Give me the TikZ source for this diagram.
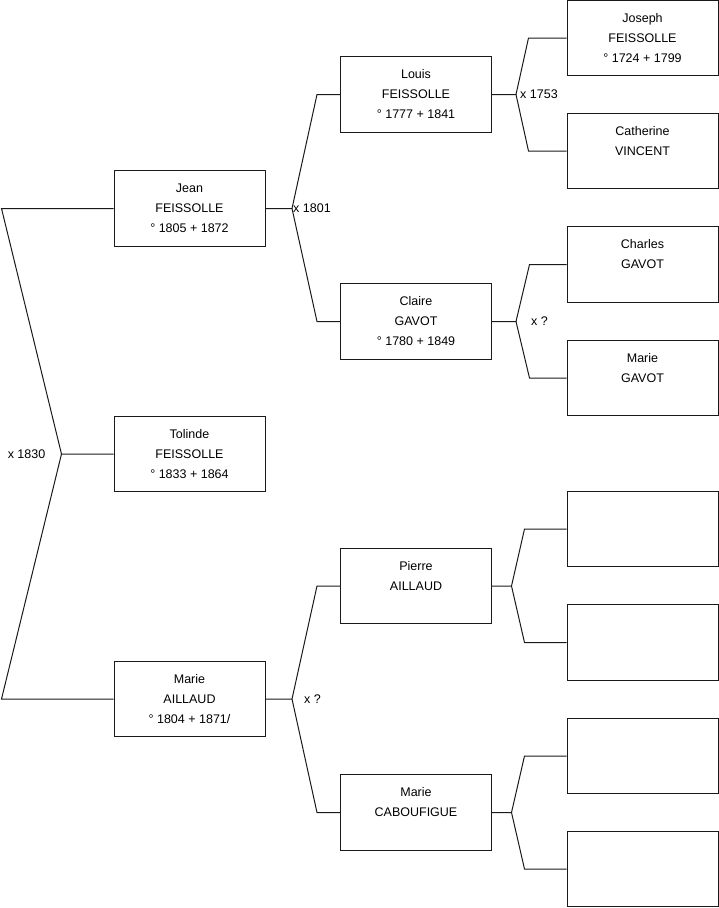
\documentclass[tikz,border=0pt]{standalone}
\usepackage{fontspec}
\setmainfont{Liberation Sans}
\usepackage{tikz}
\usetikzlibrary{positioning}
\definecolor{ink}{HTML}{1A1A1A}
\newcommand{\pers}[3]{\strut#1\\\strut#2\\\strut#3}

\begin{document}
\begin{tikzpicture}[x=1pt,y=-1pt,
  person/.style={draw=ink,line width=1pt,fill=white,align=center,
                 minimum width=151pt,minimum height=75.5pt,inner sep=0pt,
                 font=\fontsize{12.5}{20}\selectfont},
  link/.style={draw=ink,line width=1pt},
  union/.style={font=\fontsize{12.5}{15}\selectfont,inner sep=1pt},
]
  \useasboundingbox (0,0) rectangle (719,908);

  % generation 1
  \node[person] (jean) at (189.5,208.5) {\pers{Jean}{FEISSOLLE}{° 1805 + 1872}};
  \node[person] (tolinde) at (189.5,454) {\pers{Tolinde}{FEISSOLLE}{° 1833 + 1864}};
  \node[person] (marieA) at (189.5,699) {\pers{Marie}{AILLAUD}{° 1804 + 1871/}};

  % generation 2
  \node[person] (louis) at (416,94.5) {\pers{Louis}{FEISSOLLE}{° 1777 + 1841}};
  \node[person] (claire) at (416,321.5) {\pers{Claire}{GAVOT}{° 1780 + 1849}};
  \node[person] (pierre) at (416,586) {\pers{Pierre}{AILLAUD}{}};
  \node[person] (marieC) at (416,812.5) {\pers{Marie}{CABOUFIGUE}{}};

  % generation 3
  \node[person] (joseph) at (642.5,38) {\pers{Joseph}{FEISSOLLE}{° 1724 + 1799}};
  \node[person] (catherine) at (642.5,151) {\pers{Catherine}{VINCENT}{}};
  \node[person] (charles) at (642.5,264.5) {\pers{Charles}{GAVOT}{}};
  \node[person] (marieG) at (642.5,378) {\pers{Marie}{GAVOT}{}};
  \node[person] (pp) at (642.5,529) {\pers{}{}{}};
  \node[person] (pm) at (642.5,642.5) {\pers{}{}{}};
  \node[person] (cp) at (642.5,756) {\pers{}{}{}};
  \node[person] (cm) at (642.5,869) {\pers{}{}{}};

  % unions
  \coordinate (fTol) at ([xshift=-52pt]tolinde.west);
  \draw[link] (tolinde.west) -- (fTol) -- ([xshift=-112pt]jean.west) -- (jean.west);
  \draw[link] (fTol) -- ([xshift=-112pt]marieA.west) -- (marieA.west);
  \node[union,left=15pt of fTol] (uTol) {x 1830};

  \coordinate (fJean) at ([xshift=26.5pt]jean.east);
  \draw[link] (jean.east) -- (fJean) -- ([xshift=-23pt]louis.west) -- (louis.west);
  \draw[link] (fJean) -- ([xshift=-23pt]claire.west) -- (claire.west);
  \node[union,right=0pt of fJean] (uJean) {x 1801};

  \coordinate (fMarieA) at ([xshift=26.5pt]marieA.east);
  \draw[link] (marieA.east) -- (fMarieA) -- ([xshift=-23pt]pierre.west) -- (pierre.west);
  \draw[link] (fMarieA) -- ([xshift=-23pt]marieC.west) -- (marieC.west);
  \node[union,right=11pt of fMarieA] (uMarieA) {x ?};

  \coordinate (fLouis) at ([xshift=24pt]louis.east);
  \draw[link] (louis.east) -- (fLouis) -- ([xshift=-38pt]joseph.west) -- (joseph.west);
  \draw[link] (fLouis) -- ([xshift=-38pt]catherine.west) -- (catherine.west);
  \node[union,right=3pt of fLouis] (uLouis) {x 1753};

  \coordinate (fClaire) at ([xshift=24pt]claire.east);
  \draw[link] (claire.east) -- (fClaire) -- ([xshift=-37pt]charles.west) -- (charles.west);
  \draw[link] (fClaire) -- ([xshift=-37pt]marieG.west) -- (marieG.west);
  \node[union,right=14pt of fClaire] (uClaire) {x ?};

  \coordinate (fPierre) at ([xshift=19.5pt]pierre.east);
  \draw[link] (pierre.east) -- (fPierre) -- ([xshift=-42pt]pp.west) -- (pp.west);
  \draw[link] (fPierre) -- ([xshift=-42pt]pm.west) -- (pm.west);

  \coordinate (fMarieC) at ([xshift=19.5pt]marieC.east);
  \draw[link] (marieC.east) -- (fMarieC) -- ([xshift=-42pt]cp.west) -- (cp.west);
  \draw[link] (fMarieC) -- ([xshift=-42pt]cm.west) -- (cm.west);
\end{tikzpicture}
\end{document}
